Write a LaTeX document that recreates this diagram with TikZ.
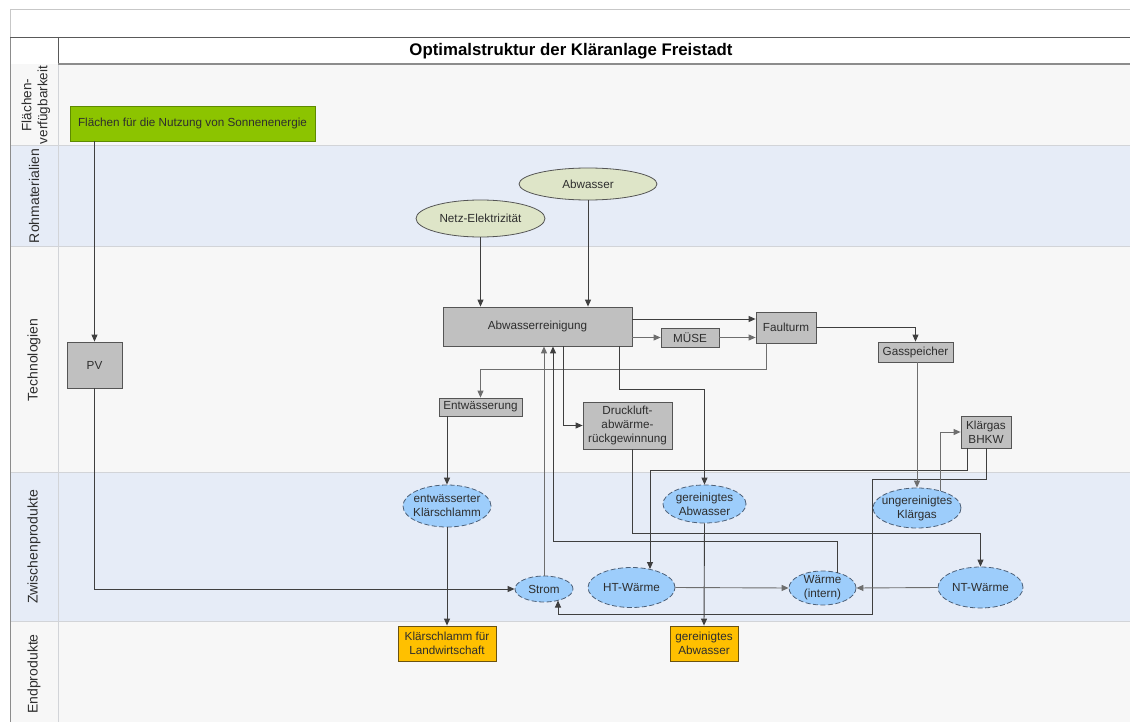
\documentclass[tikz,border=0pt]{standalone}
\usepackage{fontspec}
\setmainfont{Liberation Sans}
\usetikzlibrary{shapes.geometric,arrows.meta}
\definecolor{laneg}{HTML}{F7F7F7}
\definecolor{laneb}{HTML}{E6ECF7}
\definecolor{sepc}{HTML}{D2D4D8}
\definecolor{techf}{HTML}{C0C0C0}
\definecolor{techd}{HTML}{555555}
\definecolor{greenf}{HTML}{8CC400}
\definecolor{greend}{HTML}{5E8A00}
\definecolor{olivef}{HTML}{DEE5C8}
\definecolor{bluef}{HTML}{9DCDFB}
\definecolor{blued}{HTML}{4D6078}
\definecolor{orangef}{HTML}{FFC000}
\definecolor{oranged}{HTML}{6B5310}
\definecolor{txt}{HTML}{2E2E2E}
\definecolor{lndark}{HTML}{3F3F3F}
\definecolor{lngray}{HTML}{6E6E6E}
\begin{document}
\begin{tikzpicture}[x=1pt,y=-1pt,
  nodefont/.style={font=\fontsize{11.7}{14}\selectfont, text=txt, align=center},
  techbox/.style={nodefont, draw=techd, fill=techf, line width=0.8pt, inner sep=0pt},
  rawell/.style={nodefont, ellipse, draw=techd, fill=olivef, line width=0.8pt, inner xsep=-8pt, inner ysep=-4pt},
  midell/.style={nodefont, ellipse, draw=blued, fill=bluef, line width=0.8pt, dash pattern=on 5pt off 2.5pt, inner xsep=-8pt, inner ysep=-4pt},
  endbox/.style={nodefont, draw=oranged, fill=orangef, line width=0.8pt, inner sep=0pt},
  areabox/.style={nodefont, draw=greend, fill=greenf, line width=0.8pt, inner sep=0pt},
  lanelabel/.style={font=\fontsize{14}{16.5}\selectfont, text=txt, rotate=90, align=center},
  arr/.style={draw=lndark, line width=0.9pt, -{Triangle[length=7pt,width=6pt]}},
  arrg/.style={draw=lngray, line width=0.9pt, -{Triangle[length=7pt,width=6pt]}}
]
\useasboundingbox (0,0) rectangle (1130,722);
\fill[white] (0,0) rectangle (1130,722);
% lanes
\fill[laneg] (10,64) rectangle (1130,146);
\fill[laneb] (10,146) rectangle (1130,247);
\fill[laneg] (10,247) rectangle (1130,472);
\fill[laneb] (10,472) rectangle (1130,621);
\fill[laneg] (10,621) rectangle (1130,722);
% separators
\draw[sepc, line width=1pt] (10,146) -- (1130,146);
\draw[sepc, line width=1pt] (10,247) -- (1130,247);
\draw[sepc, line width=1pt] (10,472) -- (1130,472);
\draw[sepc, line width=1pt] (10,621) -- (1130,621);
\draw[sepc, line width=0.8pt] (58,64) -- (58,722);
\draw[black!45, line width=0.8pt] (10,37) -- (10,722);
% top frame
\draw[black!22, line width=0.8pt] (10,9) -- (1130,9);
\draw[black!22, line width=0.8pt] (10,9) -- (10,37);
\draw[black!65, line width=0.9pt] (10,37) -- (1130,37);
\draw[black!65, line width=0.9pt] (58,37) -- (58,64);
\draw[black!45, line width=1.6pt] (58,64) -- (1130,64);
\node[font=\fontsize{16.8}{20}\selectfont\bfseries, text=black] (title) at (571,51) {Optimalstruktur der Kläranlage Freistadt};
% lane labels
\node[lanelabel, font=\fontsize{13.5}{16}\selectfont] (l1) at (36,105) {Flächen-\\verfügbarkeit};
\node[lanelabel] (l2) at (34,196) {Rohmaterialien};
\node[lanelabel] (l3) at (34,360) {Technologien};
\node[lanelabel] (l4) at (34,547) {Zwischenprodukte};
\node[lanelabel] (l5) at (34,674) {Endprodukte};
% nodes
\node[areabox, minimum width=245pt, minimum height=35pt] (sun) at (192.5,123.5) {Flächen für die Nutzung von Sonnenenergie};
\node[rawell, minimum width=138pt, minimum height=32pt] (abw) at (588,184) {Abwasser};
\node[rawell, minimum width=129pt, minimum height=37pt] (netz) at (480.5,218.5) {Netz-Elektrizität};
\node[techbox, minimum width=189pt, minimum height=39pt] (ar) at (537.5,326.5) {Abwasserreinigung};
\node[techbox, minimum width=58pt, minimum height=19pt] (muse) at (690,337.5) {MÜSE};
\node[techbox, minimum width=60pt, minimum height=31pt] (faul) at (786,327.5) {Faulturm};
\node[techbox, minimum width=75pt, minimum height=20pt] (gas) at (915.5,352) {Gasspeicher};
\node[techbox, minimum width=50pt, minimum height=32pt] (bhkw) at (986,432) {Klärgas\\BHKW};
\node[techbox, minimum width=83pt, minimum height=18pt] (entw) at (480.5,407) {Entwässerung};
\node[techbox, minimum width=89pt, minimum height=47pt] (druck) at (627.5,425.5) {Druckluft-\\abwärme-\\rückgewinnung};
\node[techbox, minimum width=55pt, minimum height=46pt] (pv) at (94.5,365) {PV};
\node[midell, minimum width=88pt, minimum height=42pt] (ekl) at (447,506) {entwässerter\\Klärschlamm};
\node[midell, minimum width=83pt, minimum height=38pt] (gab) at (704.5,504) {gereinigtes\\Abwasser};
\node[midell, minimum width=88pt, minimum height=40pt] (ukg) at (917,508) {ungereinigtes\\Klärgas};
\node[midell, minimum width=58pt, minimum height=26pt] (strom) at (544,589) {Strom};
\node[midell, minimum width=87pt, minimum height=40pt] (ht) at (631.5,587.5) {HT-Wärme};
\node[midell, minimum width=67pt, minimum height=34pt] (wi) at (822.5,588) {Wärme\\(intern)};
\node[midell, minimum width=85pt, minimum height=41pt] (nt) at (980.5,587.5) {NT-Wärme};
\node[endbox, minimum width=98pt, minimum height=35pt] (kfl) at (447,643.5) {Klärschlamm für\\Landwirtschaft};
\node[endbox, minimum width=68pt, minimum height=35pt] (gae) at (704,643.5) {gereinigtes\\Abwasser};
% free ends on ellipse borders
\coordinate (wiT) at (837,573);
\coordinate (htT) at (650,569);
\coordinate (stB) at (558,600.5);
\coordinate (ukT) at (940,491);
% connectors
\draw[arr] (pv.north |- sun.south) -- (pv.north);
\draw[arr] (pv.south) |- (strom.west);
\draw[arr] (netz.south) -- (netz.south |- ar.north);
\draw[arr] (abw.south) -- (abw.south |- ar.north);
\draw[arr] (ar.east |- 0,319) -- (faul.west |- 0,319);
\draw[arrg] (ar.east |- muse.west) -- (muse.west);
\draw[arrg] (muse.east) -- (faul.west |- muse.east);
\draw[arr] (faul.east) -| (gas.north);
\draw[arrg] (766,0 |- faul.south) -- (766,369) -| (entw.north);
\draw[arr] (563,0 |- ar.south) |- (druck.west);
\draw[arr] (619,0 |- ar.south) -- (619,389) -| (gab.north);
\draw[arrg] (strom.north) -- (strom.north |- ar.south);
\draw[arr] (wiT) -- (837,541) -| (553,0 |- ar.south);
\draw[arr] (632,0 |- druck.south) -- (632,533) -| (nt.north);
\draw[arr] (967,0 |- bhkw.south) -- (967,470) -| (htT);
\draw[arr] (986,0 |- bhkw.south) -- (986,479) -- (872,479) -- (872,614) -| (stB);
\draw[arrg] (ukg.north |- gas.south) -- (ukg.north);
\draw[arrg] (ukT) |- (bhkw.west);
\draw[arr] (ekl.north |- entw.south) -- (ekl.north);
\draw[arr] (ekl.south) -- (kfl.north);
\draw[arr] (gab.south) -- (gae.north);
\draw[arrg] (ht.east) -- (wi.west);
\draw[arrg] (nt.west) -- (wi.east);
\end{tikzpicture}
\end{document}
